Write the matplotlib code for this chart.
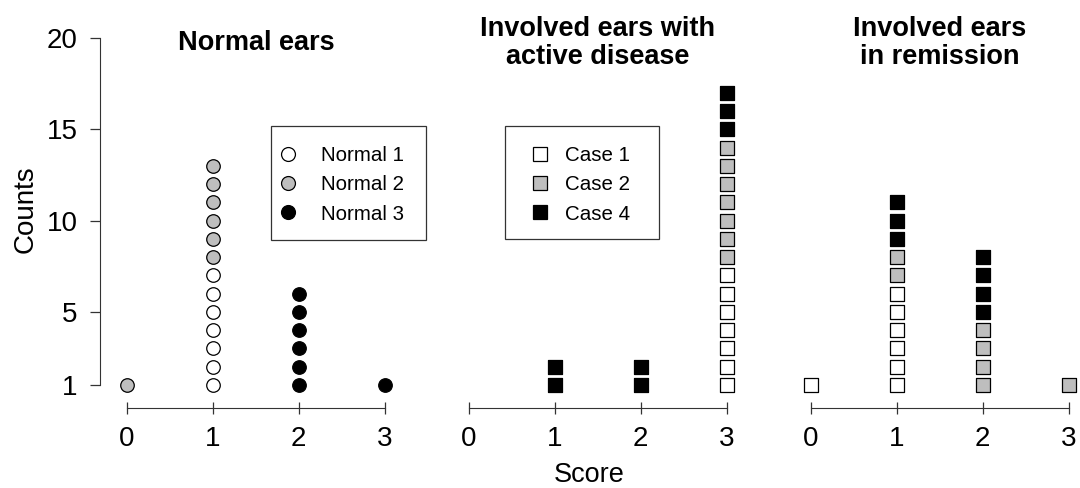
import numpy as np
import matplotlib
matplotlib.use('Agg')
import matplotlib.pyplot as plt
from matplotlib.lines import Line2D
from matplotlib.patches import Rectangle

plt.rcParams['font.family'] = ['Liberation Sans', 'DejaVu Sans']

# scores on the x axis
scores = [0, 1, 2, 3]
y_ticks = [1, 5, 10, 15, 20]

# Normal ears (circles)
normal1 = [0, 7, 0, 0]
normal2 = [1, 6, 0, 0]
normal3 = [0, 0, 6, 1]

# Involved ears with active disease (squares)
active_case1 = [0, 0, 0, 7]
active_case2 = [0, 0, 0, 7]
active_case4 = [0, 2, 2, 3]

# Involved ears in remission (squares)
remis_case1 = [1, 6, 0, 0]
remis_case2 = [0, 2, 4, 1]
remis_case4 = [0, 3, 4, 0]

titles = ['Normal ears', 'Involved ears with\nactive disease', 'Involved ears\nin remission']
normal_labels = ['Normal 1', 'Normal 2', 'Normal 3']
case_labels = ['Case 1', 'Case 2', 'Case 4']

fills = ['white', '#bebebe', 'black']
GRAY = '#333333'
W, H = 1080, 488


# stack the points of each group on top of each other per score
def stack_dots(ax, groups, marker, size):
    base = np.zeros(len(scores), dtype=int)
    for counts, fc in zip(groups, fills):
        for s, n, b in zip(scores, counts, base):
            if n == 0:
                continue
            ax.scatter([s] * n, np.arange(b + 1, b + n + 1), marker=marker, s=size,
                       facecolor=fc, edgecolor='black', linewidths=0.9, clip_on=False, zorder=3)
        base = base + np.array(counts)


fig = plt.figure(figsize=(10.8, 4.88), dpi=100)

lefts = [100, 442, 784]
panels = [
    ([normal1, normal2, normal3], 'o', 95),
    ([active_case1, active_case2, active_case4], 's', 105),
    ([remis_case1, remis_case2, remis_case4], 's', 105),
]

axes = []
for i, (groups, marker, size) in enumerate(panels):
    ax = fig.add_axes([lefts[i] / W, 80 / H, 295 / W, 397.3 / H])
    ax.patch.set_alpha(0)
    ax.set_xlim(-0.314, 3.12)
    ax.set_ylim(-0.26, 21.5)
    stack_dots(ax, groups, marker, size)

    for sp in ['top', 'right']:
        ax.spines[sp].set_visible(False)
    ax.spines['bottom'].set_bounds(0, 3)
    ax.spines['bottom'].set_color(GRAY)
    ax.set_xticks(scores)
    ax.tick_params(axis='x', direction='inout', length=8, width=0.9, colors=GRAY,
                   labelcolor='black', labelsize=20, pad=9)

    if i == 0:
        ax.spines['left'].set_bounds(1, 20)
        ax.spines['left'].set_color(GRAY)
        ax.set_yticks(y_ticks)
        ax.tick_params(axis='y', direction='out', length=7.2, width=0.9, colors=GRAY,
                       labelcolor='black', labelsize=20, pad=9)
        ax.set_ylabel('Counts', fontsize=20, labelpad=6)
    else:
        ax.spines['left'].set_visible(False)
        ax.set_yticks([])

    ax.text(1.5, 19.75, titles[i], ha='center', va='center', fontsize=19.5,
            fontweight='bold', linespacing=1.1)
    axes.append(ax)

axes[1].set_xlabel('Score', fontsize=19.5, labelpad=7)


# legends: box drawn as its own rectangle, entries placed inside it
def legend_handles(marker):
    return [Line2D([], [], linestyle='none', marker=marker, markersize=10,
                   markerfacecolor=fc, markeredgecolor='black', markeredgewidth=0.9)
            for fc in fills]


def boxed_legend(ax, marker, labels, box, anchor, textpad):
    x0, y0, x1, y1 = box
    ax.add_patch(Rectangle((x0 / W, 1 - y1 / H), (x1 - x0) / W, (y1 - y0) / H,
                           transform=fig.transFigure, facecolor='white', clip_on=False,
                           edgecolor=GRAY, linewidth=0.9, zorder=4))
    leg = ax.legend(legend_handles(marker), labels, loc='upper left',
                    bbox_to_anchor=(anchor[0] / W, 1 - anchor[1] / H),
                    bbox_transform=fig.transFigure, fontsize=14.8, frameon=False,
                    handletextpad=textpad, labelspacing=0.5, borderpad=0,
                    handlelength=1.0, borderaxespad=0)
    leg.set_zorder(6)
    return leg


boxed_legend(axes[0], 'o', normal_labels, (271, 126, 426, 240), (278, 146), 1.07)
boxed_legend(axes[1], 's', case_labels, (505, 126, 659, 239), (530, 146), 0.68)

fig.savefig('out.png', dpi=100, facecolor='white')
